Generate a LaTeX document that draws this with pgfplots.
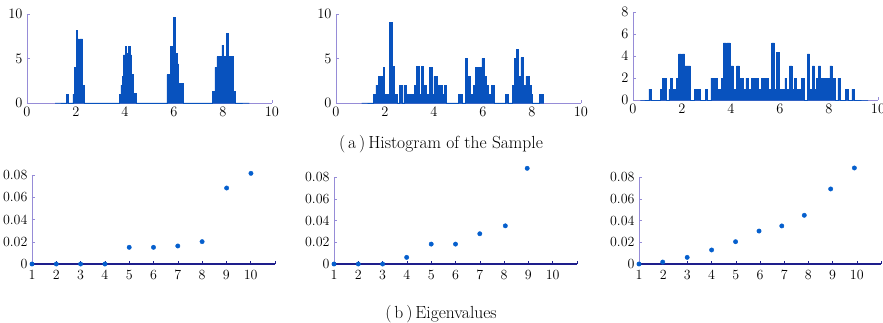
\documentclass[border=0pt]{standalone}
\usepackage{pgfplots}
\pgfplotsset{compat=1.18}
\definecolor{barblue}{RGB}{8,82,190}
\definecolor{dotblue}{RGB}{5,95,205}
\definecolor{axpurple}{RGB}{150,140,215}
\definecolor{navy}{RGB}{30,30,140}
\pgfplotsset{
  base/.style={scale only axis, anchor=south west, axis lines=left,
    axis line style={-, draw=axpurple, line width=0.6pt},
    tick style={draw=axpurple, line width=0.5pt}, major tick length=3pt, tick align=inside,
    ticklabel style={font=\fontsize{14}{16}\selectfont}, clip=false,
    scaled y ticks=false, scaled x ticks=false,
    xticklabel style={yshift=-1pt}, yticklabel style={xshift=-1pt}},
  hist/.style={base, width=245pt, xmin=0, xmax=10, ymin=0, xtick={0,2,...,10}},
  eig/.style={base, width=243pt, xmin=1, xmax=11, ymin=0, ymax=0.08,
    xtick={1,2,3,4,5,6,7,8,9,10,11}, xticklabels={1,2,3,4,5,6,7,8,9,10,{}},
    ytick={0,0.02,0.04,0.06,0.08}, yticklabels={0,0.02,0.04,0.06,0.08},
    xticklabel style={yshift=-2pt},
    x axis line style={draw=navy, line width=1.2pt}, xtick style={draw=navy, line width=0.6pt}},
  bars/.style={const plot, fill=barblue, draw=barblue, line width=0.5pt},
  dots/.style={only marks, mark=*, mark size=2.2pt, color=dotblue}
}
\begin{document}
\begin{tikzpicture}
\useasboundingbox (0,0) rectangle (883pt,322pt);
% ---------- top row ----------
\begin{axis}[hist, at={(27pt,219pt)}, height=89pt, ymax=10, ytick={0,5,10}]
\addplot[bars] coordinates {
(1.15,0)(1.62,1)(1.68,0)(1.87,1)(1.93,4)(2.0,8.2)(2.07,7.2)(2.13,3)(2.16,7.2)(2.27,2)(2.32,0)
(3.76,1)(3.83,2)(3.88,3)(3.93,5.4)(4.0,6.4)(4.07,5.6)(4.13,6.4)(4.2,5.4)(4.27,3.2)(4.34,1.1)(4.44,0)
(5.71,3.2)(5.79,2.3)(5.85,6.4)(5.96,9.6)(6.06,5.6)(6.13,4.4)(6.19,2.2)(6.39,0)
(7.58,1.3)(7.67,4)(7.75,5.2)(7.95,6.5)(8.03,5.2)(8.14,7.8)(8.22,5.2)(8.4,1.3)(8.5,0)(9.08,0)
} \closedcycle;
\end{axis}
\begin{axis}[hist, at={(336pt,219pt)}, height=89pt, ymax=10, ytick={0,5,10}]
\addplot[bars] coordinates {
(1.05,0)(1.52,1)(1.63,2)(1.73,3)(1.94,4)(1.97,1)(2.17,9.1)(2.30,4.1)(2.38,1)(2.50,0)(2.58,2)(2.70,0)
(2.77,2)(2.86,1)(3.20,2)(3.29,4.1)(3.40,1)(3.47,4.1)(3.58,2)(3.68,1)(3.82,4)(3.91,1)(3.99,3)(4.13,2)
(4.20,1)(4.25,2)(4.34,1)(4.41,2)(4.52,0)(5.0,1)(5.15,0)(5.28,5)(5.37,3)(5.47,1)(5.61,2)(5.70,4)
(5.95,5)(6.04,3)(6.12,2)(6.22,1)(6.35,2)(6.46,0)(6.90,1)(7.01,0)(7.20,2)(7.29,5)(7.36,6)(7.44,3)
(7.55,5.1)(7.65,2)(7.75,3)(7.88,2)(7.95,1)(8.03,0)(8.30,1)(8.44,0)(8.46,0)
} \closedcycle;
\end{axis}
\begin{axis}[hist, at={(633pt,222pt)}, height=88pt, ymax=8, ytick={0,2,4,6,8}]
\addplot[bars] coordinates {
(0.3,0)(0.65,1)(0.76,0)(1.13,1)(1.20,2)(1.36,0)(1.46,1)(1.52,2)(1.61,1)(1.77,2)(1.86,4.2)(1.97,2)
(2.01,4.2)(2.11,3.1)(2.34,0)(2.50,1)(2.73,0)(2.94,1)(3.05,0)(3.18,2)(3.31,1)(3.35,2)(3.44,1)(3.62,2)
(3.69,5.2)(3.80,3)(3.83,5.2)(3.96,3.1)(4.10,1)(4.23,3.1)(4.34,2)(4.50,1)(4.61,2)(4.71,1)(4.84,2)
(5.12,1)(5.25,2)(5.52,1)(5.66,5.2)(5.77,1)(5.86,4.3)(5.96,1)(6.20,2)(6.27,1)(6.38,3.1)(6.48,1)
(6.59,2)(6.67,1)(6.88,2)(6.98,0)(7.12,4.2)(7.21,1)(7.32,3.1)(7.40,1)(7.48,2)(7.57,3.1)(7.66,2)
(8.04,3.1)(8.13,2)(8.25,0)(8.36,2)(8.46,0)(8.68,1)(8.79,0)(8.93,1)(9.04,0)(9.6,0)
} \closedcycle;
\end{axis}
\node at (441pt,178pt) {\fontsize{17.5}{19}\selectfont (\,a\,)\,Histogram of the Sample};
% ---------- bottom row ----------
\begin{axis}[eig, at={(32pt,58pt)}, height=89pt]
\addplot[dots] coordinates {
(1,0)(2,0)(3,0)(4,0)(5,0.015)(6,0.015)(7,0.0162)(8,0.0201)(9.01,0.0683)(10.01,0.0815)
};
\end{axis}
\begin{axis}[eig, at={(334pt,58pt)}, height=87pt]
\addplot[dots] coordinates {
(1,0)(2,0)(3,0)(3.99,0.0061)(5,0.0183)(6,0.0183)(7,0.0278)(8.05,0.0351)(8.95,0.088)
};
\end{axis}
\begin{axis}[eig, at={(639pt,58pt)}, height=87pt, width=242pt]
\addplot[dots] coordinates {
(1,0)(1.98,0.0018)(2.99,0.0061)(4,0.0129)(4.99,0.0205)(5.96,0.0303)(6.9,0.035)(7.83,0.0448)(8.92,0.069)(9.9,0.0883)
};
\end{axis}
\node at (441pt,8pt) {\fontsize{17.5}{19}\selectfont (\,b\,)\,Eigenvalues};
\end{tikzpicture}
\end{document}
